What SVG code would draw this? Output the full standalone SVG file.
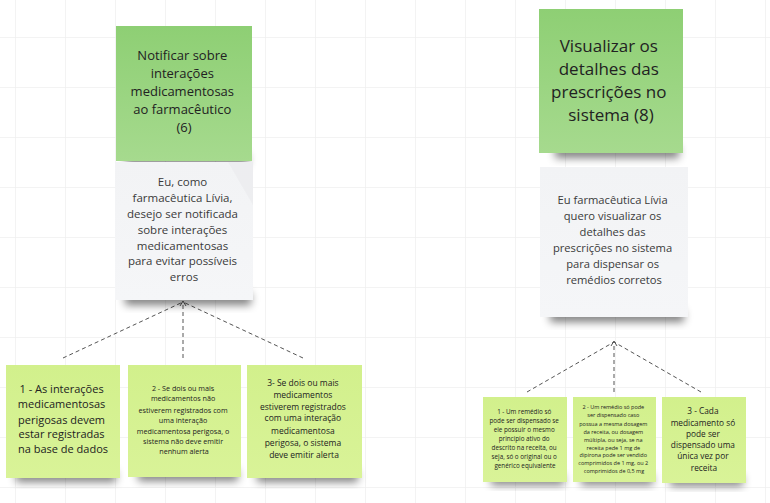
<svg xmlns="http://www.w3.org/2000/svg" width="770" height="503" viewBox="0 0 770 503">
<defs>
<pattern id="grid" x="15" y="37" width="50" height="50" patternUnits="userSpaceOnUse">
<path d="M0 0H50M0 0V50" fill="none" stroke="#efefef" stroke-width="1.5"/>
</pattern>
<linearGradient id="gGreen" x1="0" y1="0" x2="0" y2="1">
<stop offset="0" stop-color="#8ecf74"/>
<stop offset="1" stop-color="#a6da8e"/>
</linearGradient>
<linearGradient id="gWhite" x1="0" y1="0" x2="0" y2="1">
<stop offset="0" stop-color="#f2f3f5"/>
<stop offset="1" stop-color="#f5f6f8"/>
</linearGradient>
<linearGradient id="gLime" x1="0" y1="0" x2="0" y2="1">
<stop offset="0" stop-color="#d2f08c"/>
<stop offset="1" stop-color="#d9f398"/>
</linearGradient>
<filter id="sh" x="-20%" y="-60%" width="140%" height="220%">
<feGaussianBlur stdDeviation="4"/>
</filter>
</defs>
<style>
.t{font-family:"Open Sans","Noto Sans","Liberation Sans",sans-serif;fill:#222;text-anchor:middle}
.w{fill:#3a3a3a}
.c{fill:none;stroke:#555;stroke-width:1;stroke-dasharray:4 3}
.s{fill:#000;opacity:0.5;filter:url(#sh)}
</style>
<rect width="770" height="503" fill="#ffffff"/>
<rect width="770" height="503" fill="url(#grid)"/>

<g id="connectors">
<line class="c" x1="63" y1="358" x2="183" y2="302"/>
<line class="c" x1="183" y1="358" x2="183" y2="302"/>
<line class="c" x1="303" y1="358" x2="183" y2="302"/>
<path d="M180 306L183 301L186 306" fill="none" stroke="#555" stroke-width="1"/>
<line class="c" x1="527" y1="392" x2="614" y2="342"/>
<line class="c" x1="614" y1="392" x2="614" y2="342"/>
<line class="c" x1="701" y1="392" x2="614" y2="342"/>
<path d="M611 346L614 341L617 346" fill="none" stroke="#555" stroke-width="1"/>
</g>

<g id="node-notificar">
<rect class="s" x="126" y="154" width="122" height="11"/>
<rect x="116" y="26" width="136" height="135" fill="url(#gGreen)"/>
<text class="t" font-size="13">
<tspan x="184" y="60">Notificar sobre</tspan>
<tspan x="184" y="78">interações</tspan>
<tspan x="184" y="96">medicamentosas</tspan>
<tspan x="184" y="114">ao farmacêutico</tspan>
<tspan x="184" y="132">(6)</tspan>
</text>
</g>

<g id="node-eu-como">
<rect class="s" x="125" y="293" width="126" height="12"/>
<rect x="115" y="162" width="138" height="138" fill="url(#gWhite)"/>
<path d="M228 162L253 162L253 205Z" fill="#e9eaed" opacity="0.6"/>
<text class="t w" font-size="11.5">
<tspan x="184" y="186">Eu, como</tspan>
<tspan x="184" y="202">farmacêutica Lívia,</tspan>
<tspan x="184" y="218">desejo ser notificada</tspan>
<tspan x="184" y="234">sobre interações</tspan>
<tspan x="184" y="250">medicamentosas</tspan>
<tspan x="184" y="265">para evitar possíveis</tspan>
<tspan x="184" y="281">erros</tspan>
</text>
</g>

<g id="node-l1">
<rect class="s" x="16" y="471" width="100" height="11"/>
<rect x="6" y="365" width="114" height="113" fill="url(#gLime)"/>
<text class="t" font-size="11" fill="#2a2a2a">
<tspan x="63" y="393">1 - As interações</tspan>
<tspan x="63" y="408">medicamentosas</tspan>
<tspan x="63" y="424">perigosas devem</tspan>
<tspan x="63" y="438">estar registradas</tspan>
<tspan x="63" y="453">na base de dados</tspan>
</text>
</g>

<g id="node-l2">
<rect class="s" x="138" y="470" width="100" height="11"/>
<rect x="128" y="365" width="113" height="112" fill="url(#gLime)"/>
<text class="t" font-size="7.2">
<tspan x="184" y="390.5">2 - Se dois ou mais</tspan>
<tspan x="184" y="401">medicamentos não</tspan>
<tspan x="184" y="412.5">estiverem registrados com</tspan>
<tspan x="184" y="423">uma interação</tspan>
<tspan x="184" y="433.5">medicamentosa perigosa, o</tspan>
<tspan x="184" y="443.5">sistema não deve emitir</tspan>
<tspan x="184" y="453.5">nenhum alerta</tspan>
</text>
</g>

<g id="node-l3">
<rect class="s" x="257" y="471" width="101" height="11"/>
<rect x="247" y="365" width="115" height="113" fill="url(#gLime)"/>
<text class="t" font-size="8.5">
<tspan x="304" y="386">3- Se dois ou mais</tspan>
<tspan x="304" y="397.5">medicamentos</tspan>
<tspan x="304" y="409.5">estiverem registrados</tspan>
<tspan x="304" y="421">com uma interação</tspan>
<tspan x="304" y="434">medicamentosa</tspan>
<tspan x="304" y="446">perigosa, o sistema</tspan>
<tspan x="304" y="457.5">deve emitir alerta</tspan>
</text>
</g>

<g id="node-visualizar">
<rect class="s" x="555" y="146" width="124" height="12"/>
<rect x="539" y="9" width="144" height="144" fill="url(#gGreen)"/>
<text class="t" font-size="17">
<tspan x="611" y="52">Visualizar os</tspan>
<tspan x="611" y="75">detalhes das</tspan>
<tspan x="611" y="98">prescrições no</tspan>
<tspan x="611" y="121">sistema (8)</tspan>
</text>
</g>

<g id="node-eu-farm">
<rect class="s" x="550" y="310" width="134" height="12"/>
<rect x="540" y="167" width="148" height="150" fill="url(#gWhite)"/>
<text class="t w" font-size="11.2">
<tspan x="614" y="204">Eu farmacêutica Lívia</tspan>
<tspan x="614" y="220">quero visualizar os</tspan>
<tspan x="614" y="236">detalhes das</tspan>
<tspan x="614" y="252">prescrições no sistema</tspan>
<tspan x="614" y="268">para dispensar os</tspan>
<tspan x="614" y="284">remédios corretos</tspan>
</text>
</g>

<g id="node-r1">
<rect class="s" x="491" y="475" width="73" height="10"/>
<rect x="483" y="397" width="84" height="85" fill="url(#gLime)"/>
<text class="t" font-size="6.3">
<tspan x="525" y="414">1 - Um remédio só</tspan>
<tspan x="525" y="423">pode ser dispensado se</tspan>
<tspan x="525" y="432">ele possuir o mesmo</tspan>
<tspan x="525" y="441">princípio ativo do</tspan>
<tspan x="525" y="450">descrito na receita, ou</tspan>
<tspan x="525" y="459">seja, só o original ou o</tspan>
<tspan x="525" y="468">genérico equivalente</tspan>
</text>
</g>

<g id="node-r2">
<rect class="s" x="581" y="475" width="72" height="10"/>
<rect x="573" y="397" width="83" height="85" fill="url(#gLime)"/>
<text class="t" font-size="5.5">
<tspan x="614" y="409">2 - Um remédio só pode</tspan>
<tspan x="614" y="417">ser dispensado caso</tspan>
<tspan x="614" y="426">possua a mesma dosagem</tspan>
<tspan x="614" y="434">da receita, ou dosagem</tspan>
<tspan x="614" y="442">múltipla, ou seja, se na</tspan>
<tspan x="614" y="450">receita pede 1 mg de</tspan>
<tspan x="614" y="457">dipirona pode ser vendido</tspan>
<tspan x="614" y="465">comprimidos de 1 mg, ou 2</tspan>
<tspan x="614" y="473">comprimidos de 0,5 mg</tspan>
</text>
</g>

<g id="node-r3">
<rect class="s" x="670" y="476" width="73" height="10"/>
<rect x="662" y="397" width="84" height="86" fill="url(#gLime)"/>
<text class="t" font-size="8.3">
<tspan x="704" y="414">3 - Cada</tspan>
<tspan x="704" y="425.5">medicamento só</tspan>
<tspan x="704" y="437">pode ser</tspan>
<tspan x="704" y="448">dispensado uma</tspan>
<tspan x="704" y="459">única vez por</tspan>
<tspan x="704" y="470.5">receita</tspan>
</text>
</g>
</svg>
